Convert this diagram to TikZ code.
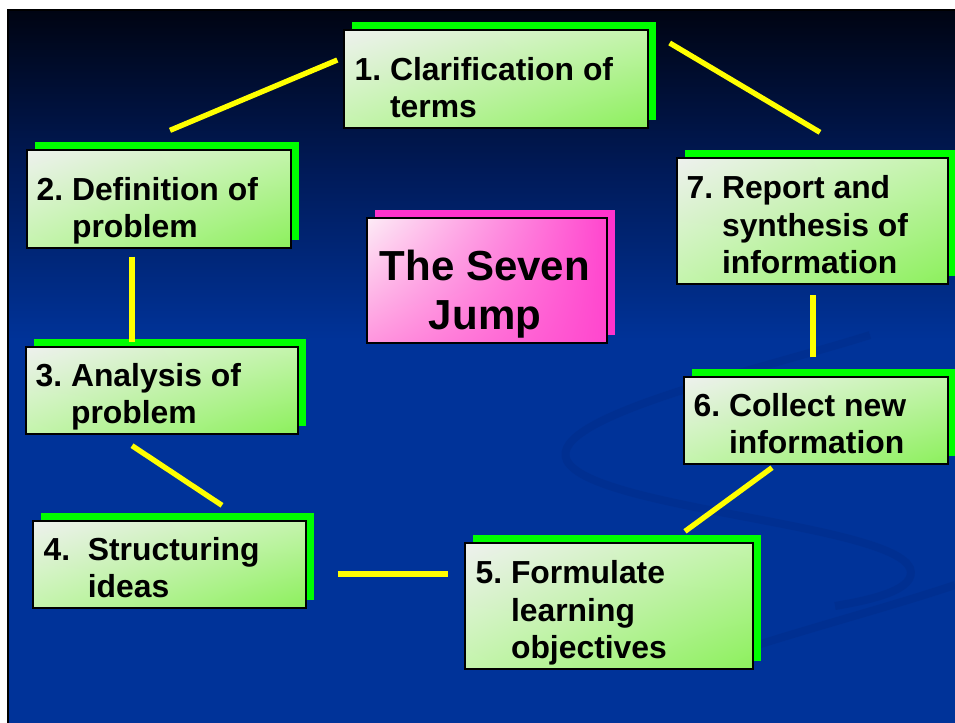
\documentclass[tikz,border=0pt]{standalone}
\usepackage{fontspec}
\setmainfont{Liberation Sans}
\usetikzlibrary{shadows,shadings}
\definecolor{slideblue}{RGB}{0,51,153}
\definecolor{slidenavy}{RGB}{0,26,88}
\definecolor{slidetop}{RGB}{0,4,18}
\definecolor{swooshblue}{RGB}{0,38,122}
\definecolor{jumpgreen}{RGB}{0,255,0}
\definecolor{greenpale}{RGB}{238,241,238}
\definecolor{greenmid}{RGB}{196,244,172}
\definecolor{greenfull}{RGB}{140,240,92}
\definecolor{jumppink}{RGB}{255,51,204}
\definecolor{pinkpale}{RGB}{253,236,246}
\definecolor{pinkmid}{RGB}{255,150,222}
\definecolor{pinkfull}{RGB}{255,70,206}
\definecolor{linkyellow}{RGB}{255,255,0}
\begin{document}
\begin{tikzpicture}
  [x=0.75pt,y=-0.75pt,
   stepbox/.style={draw=black,line width=1pt,inner sep=0pt,
     upper left=greenpale,upper right=greenmid,lower left=greenmid,lower right=greenfull,
     drop shadow={shadow xshift=6pt,shadow yshift=6pt,fill=jumpgreen,opacity=1}},
   titlebox/.style={draw=black,line width=1pt,inner sep=0pt,
     upper left=pinkpale,upper right=pinkfull,lower left=pinkmid,lower right=pinkfull,
     drop shadow={shadow xshift=6pt,shadow yshift=6pt,fill=jumppink,opacity=1}},
   steptext/.style={anchor=base west,inner sep=0pt,font=\fontsize{23.9}{28.2}\selectfont\bfseries},
   titletext/.style={anchor=base,inner sep=0pt,font=\fontsize{31.5}{36.75}\selectfont\bfseries},
   link/.style={draw=linkyellow,line width=4pt},
   swoosh/.style={draw=swooshblue,line width=6pt,opacity=.25}]
  \useasboundingbox (0,0) rectangle (955,722);

  % slide background
  \fill[white] (0,0) rectangle (955,722);
  \shade[top color=slidetop,bottom color=slidenavy] (7,9) rectangle (960,171);
  \shade[top color=slidenavy,bottom color=slideblue] (7,170) rectangle (960,341);
  \fill[slideblue] (7,340) rectangle (960,730);
  \draw[swoosh] (870,335) .. controls (760,370) and (530,420) .. (570,465) .. controls (610,510) and (890,525) .. (910,568) .. controls (918,590) and (870,600) .. (835,606);
  \draw[swoosh] (955,585) .. controls (880,610) and (800,630) .. (705,662);
  \draw[line width=1.5pt] (7.5,730) -- (7.5,9.5) -- (960,9.5);

  % the seven steps
  \node[stepbox,minimum width=228pt,minimum height=73.5pt] (clar) at (496,79) {};
  \node[stepbox,minimum width=198pt,minimum height=73.5pt] (defn) at (159,199) {};
  \node[stepbox,minimum width=204pt,minimum height=65.25pt] (anal) at (162,390.5) {};
  \node[stepbox,minimum width=204.75pt,minimum height=65.25pt] (struc) at (169.5,564.5) {};
  \node[stepbox,minimum width=216pt,minimum height=94.5pt] (form) at (609,606) {};
  \node[stepbox,minimum width=198pt,minimum height=65.25pt] (coll) at (816,420.5) {};
  \node[stepbox,minimum width=203.25pt,minimum height=94.5pt] (rep) at (812.5,221) {};
  \node[titlebox,minimum width=180pt,minimum height=93.75pt] (seven) at (487,280.5) {};

  % texts of the steps
  \node[steptext] (clartxt) at ([shift={(11,-11)}]clar.south west)
    {\begin{tabular}[b]{@{}l@{\ }l@{}}1.&Clarification of\\&terms\end{tabular}};
  \node[steptext] (defntxt) at ([shift={(10,-11)}]defn.south west)
    {\begin{tabular}[b]{@{}l@{\ }l@{}}2.&Definition of\\&problem\end{tabular}};
  \node[steptext] (analtxt) at ([shift={(10,-11)}]anal.south west)
    {\begin{tabular}[b]{@{}l@{\ }l@{}}3.&Analysis of\\&problem\end{tabular}};
  \node[steptext] (structxt) at ([shift={(11,-11)}]struc.south west)
    {\begin{tabular}[b]{@{}l@{\ }l@{}}4.\ \mbox{}&Structuring\\&ideas\end{tabular}};
  \node[steptext] (formtxt) at ([shift={(11,-11)}]form.south west)
    {\begin{tabular}[b]{@{}l@{\ }l@{}}5.&Formulate\\&learning\\&objectives\end{tabular}};
  \node[steptext] (colltxt) at ([shift={(10,-11)}]coll.south west)
    {\begin{tabular}[b]{@{}l@{\ }l@{}}6.&Collect new\\&information\end{tabular}};
  \node[steptext] (reptxt) at ([shift={(10,-11)}]rep.south west)
    {\begin{tabular}[b]{@{}l@{\ }l@{}}7.&Report and\\&synthesis of\\&information\end{tabular}};
  \node[titletext] (seventxt) at ([shift={(-2,-14)}]seven.south)
    {\begin{tabular}[b]{@{}c@{}}The Seven\\Jump\end{tabular}};

  % yellow links round the cycle
  \draw[link] ([shift={(-6,-19)}]clar.west) -- ([shift={(11,-19)}]defn.north);
  \draw[link] ([shift={(-27,8)}]defn.south) -- ([shift={(-30,-4)}]anal.north);
  \draw[link] ([shift={(-30,11)}]anal.south) -- ([shift={(52.5,-15)}]struc.north);
  \draw[link] ([shift={(31,9.5)}]struc.east) -- ([shift={(-16,-32)}]form.west);
  \draw[link] ([shift={(76,-11)}]form.north) -- ([shift={(-44,3)}]coll.south);
  \draw[link] ([shift={(-3,-19)}]coll.north) -- ([shift={(0.5,10)}]rep.south);
  \draw[link] ([shift={(7.5,-25)}]rep.north) -- ([shift={(21,-36)}]clar.east);
\end{tikzpicture}
\end{document}
